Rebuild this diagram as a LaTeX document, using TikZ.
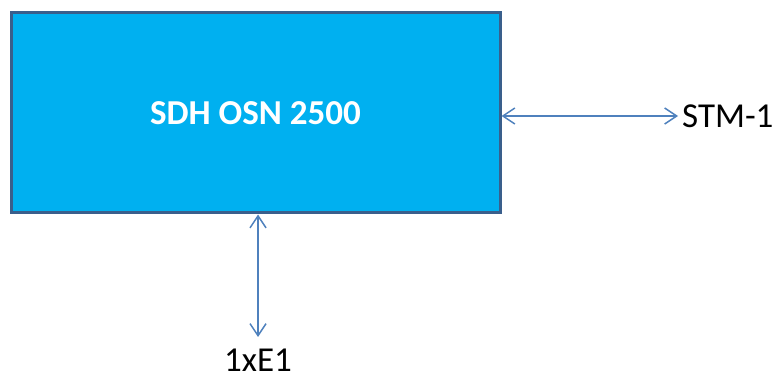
\documentclass[tikz,border=0pt]{standalone}
\usepackage{fontspec}
\setmainfont{Carlito}
\usetikzlibrary{arrows.meta}
\definecolor{boxfill}{HTML}{00B0F0}
\definecolor{boxline}{HTML}{3A5F8C}
\definecolor{arrowcol}{HTML}{4F81BD}
\tikzset{
  mainbox/.style={draw=boxline, fill=boxfill, line width=3pt, minimum width=489pt, minimum height=200pt, inner sep=0pt, font=\fontsize{35}{40}\selectfont\bfseries, text=white},
  link/.style={arrowcol, line width=1.5pt, {Straight Barb[length=12pt,width=16pt]}-{Straight Barb[length=12pt,width=16pt]}},
  lbl/.style={font=\fontsize{35}{40}\selectfont, text=black, inner sep=0pt}
}
\begin{document}
\begin{tikzpicture}[x=1pt,y=-1pt]
\useasboundingbox (0,0) rectangle (777,379);
\node[mainbox] (box) at (255.5,113) {SDH OSN 2500};
\coordinate (stmend) at (678,116);
\coordinate (e1end) at (258,337);
\node[lbl, anchor=west] (stm) at (682,116) {STM-1};
\node[lbl, anchor=base] (e1) at (258,372) {1xE1};
\draw[link] (box.east |- stmend) -- (stmend);
\draw[link] (box.south -| e1end) -- (e1end);
\end{tikzpicture}
\end{document}
